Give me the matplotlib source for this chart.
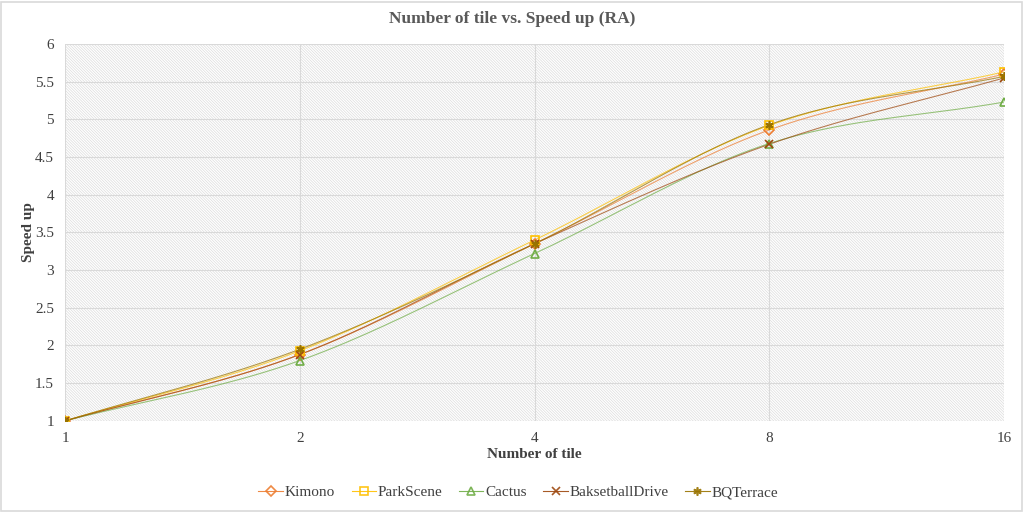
import numpy as np
import matplotlib
matplotlib.use('Agg')
import matplotlib.pyplot as plt
from matplotlib.patches import Rectangle

tiles = [1, 2, 4, 8, 16]
kimono = [1.0, 1.88, 3.35, 4.86, 5.60]
parkscene = [1.0, 1.93, 3.40, 4.92, 5.63]
cactus = [1.0, 1.80, 3.22, 4.68, 5.23]
basketball = [1.0, 1.88, 3.35, 4.67, 5.55]
bqterrace = [1.0, 1.95, 3.35, 4.93, 5.57]

series = [
    ('Kimono', kimono, '#ED7D31', 'D', 'none'),
    ('ParkScene', parkscene, '#FFC000', 's', 'none'),
    ('Cactus', cactus, '#70AD47', '^', 'none'),
    ('BaksetballDrive', basketball, '#9E480E', 'x', None),
    ('BQTerrace', bqterrace, '#997300', (6, 2, 0), None),
]

plt.rcParams['font.family'] = 'Liberation Serif'
plt.rcParams['hatch.linewidth'] = 0.5
plt.rcParams['hatch.color'] = '#dcdcdc'


def smooth(xs, ys, n=40):
    # catmull-rom style smoothing in log2 space, like the spreadsheet "smoothed line"
    lx = np.log2(xs)
    ys = np.asarray(ys, dtype=float)
    px = np.concatenate([[2 * lx[0] - lx[1]], lx, [2 * lx[-1] - lx[-2]]])
    py = np.concatenate([[2 * ys[0] - ys[1]], ys, [2 * ys[-1] - ys[-2]]])
    outx, outy = [], []
    for i in range(1, len(px) - 2):
        t = np.linspace(0, 1, n)
        for arr, out in ((px, outx), (py, outy)):
            p0, p1, p2, p3 = arr[i - 1], arr[i], arr[i + 1], arr[i + 2]
            out.extend(0.5 * ((2 * p1) + (-p0 + p2) * t
                              + (2 * p0 - 5 * p1 + 4 * p2 - p3) * t ** 2
                              + (-p0 + 3 * p1 - 3 * p2 + p3) * t ** 3))
    return 2 ** np.array(outx), np.array(outy)


fig = plt.figure(figsize=(10.24, 5.12), dpi=100)
ax = fig.add_axes([0.0635, 0.178, 0.917, 0.736])
ax.patch.set_facecolor('white')
ax.patch.set_hatch('\\' * 12)
ax.patch.set_edgecolor('#dcdcdc')

for name, vals, col, mk, fc in series:
    sx, sy = smooth(tiles, vals)
    ms = 5 if mk == 'D' else 6
    ax.plot(sx, sy, color=col, lw=0.8, alpha=0.7, zorder=3)
    ax.plot(tiles, vals, ls='none', marker=mk, markersize=ms,
            markerfacecolor=fc if fc else col, markeredgecolor=col,
            markeredgewidth=1.2, zorder=4)
    ax.plot([], [], color=col, lw=0.8, alpha=0.9, marker=mk, markersize=ms,
            markerfacecolor=fc if fc else col, markeredgecolor=col,
            markeredgewidth=1.2, label=name)

ax.set_xscale('log', base=2)
ax.set_xlim(1, 16)
ax.set_ylim(1, 6)
ax.set_xticks(tiles)
ax.set_xticklabels([str(t) for t in tiles])
ax.minorticks_off()
ax.set_yticks(np.arange(1, 6.01, 0.5))
ax.set_yticklabels(['1', '1.5', '2', '2.5', '3', '3.5', '4', '4.5', '5', '5.5', '6'])
ax.grid(True, color='#d9d9d9', lw=0.8)
ax.set_axisbelow(True)
for s in ax.spines.values():
    s.set_visible(False)
ax.tick_params(length=0, labelsize=11, colors='#404040', pad=8)

ax.set_xlabel('Number of tile', fontsize=11, fontweight='bold', color='#404040', labelpad=2)
ax.set_ylabel('Speed up', fontsize=11, fontweight='bold', color='#404040', labelpad=0)
fig.text(0.5, 0.962, 'Number of tile vs. Speed up (RA)', ha='center', va='center',
         fontsize=12.5, fontweight='bold', color='#595959')

fig.legend(loc='center', bbox_to_anchor=(0.506, 0.038), ncol=5, frameon=False,
           fontsize=11, handlelength=1.6, handletextpad=0.1, columnspacing=1.1,
           labelcolor='#404040')

fig.patches.append(Rectangle((0.001, 0.002), 0.997, 0.995, transform=fig.transFigure,
                             fill=False, edgecolor='#d9d9d9', lw=1.2))

fig.savefig('out.png', dpi=100)
